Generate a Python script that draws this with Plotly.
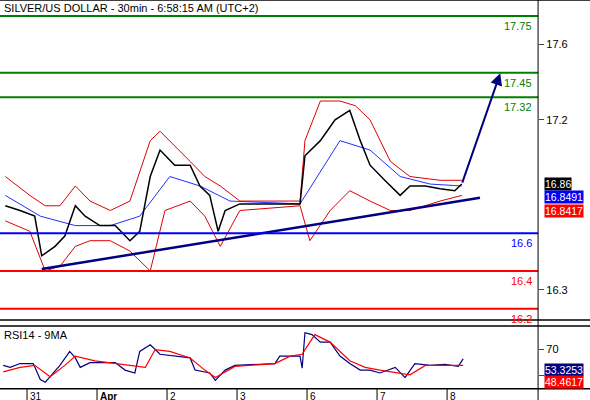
import plotly.graph_objects as go

day_ticks = [0, 1, 2, 3, 4, 5, 6]
day_labels = ["31", "Apr", "2", "3", "6", "7", "8"]

px_x = [-0.31,-0.10,0.11,0.21,0.40,0.54,0.69,0.83,1.04,1.26,1.47,1.61,1.76,1.90,2.11,2.33,2.47,2.61,2.73,2.83,3.04,3.33,3.90,3.97,4.19,4.40,4.61,4.76,4.90,5.11,5.33,5.47,5.69,5.90,6.11,6.21]
price = [16.745,16.72,16.69,16.48,16.53,16.585,16.745,16.69,16.64,16.64,16.56,16.61,16.90,17.04,16.96,16.96,16.85,16.80,16.61,16.72,16.755,16.755,16.755,17.01,17.09,17.20,17.25,17.09,16.96,16.88,16.80,16.85,16.85,16.835,16.825,16.86]

up_x = [-0.31,0.04,0.26,0.47,0.69,0.90,1.19,1.47,1.76,1.90,2.33,2.54,2.76,3.04,3.90,3.97,4.19,4.47,4.69,4.90,5.19,5.47,5.90,6.21]
upper = [16.90,16.80,16.745,16.745,16.85,16.77,16.72,16.77,17.09,17.14,16.98,16.90,16.85,16.77,16.77,17.09,17.30,17.30,17.275,17.20,16.98,16.90,16.88,16.88]
lo_x = [-0.31,0.04,0.26,0.47,0.69,0.90,1.19,1.47,1.76,1.97,2.33,2.54,2.76,3.04,3.90,4.04,4.33,4.61,4.90,5.19,5.47,5.90,6.21]
lower = [16.665,16.61,16.40,16.425,16.53,16.56,16.56,16.505,16.40,16.72,16.77,16.69,16.53,16.72,16.745,16.56,16.72,16.825,16.77,16.72,16.72,16.77,16.80]
mid_x = [-0.31,0.19,0.69,1.19,1.61,2.04,2.47,2.90,3.90,4.47,4.90,5.33,5.76,6.21]
middle = [16.80,16.69,16.64,16.64,16.69,16.90,16.85,16.77,16.755,17.09,17.04,16.90,16.86,16.85]

trend_x = [0.21, 6.47]
trend_y = [16.41, 16.787]
arrow_x = [6.21, 6.76]
arrow_y = [16.86, 17.447]

rsi_x = [-0.34,-0.24,-0.10,0.09,0.19,0.26,0.33,0.47,0.61,0.69,0.76,0.90,1.04,1.26,1.40,1.54,1.61,1.76,1.90,2.11,2.33,2.40,2.61,2.69,2.83,2.97,3.54,3.61,3.90,3.93,3.97,4.07,4.19,4.33,4.47,4.61,4.76,4.90,5.04,5.26,5.40,5.54,5.76,5.97,6.16,6.23]
rsi = [57.9,56.4,59.3,59.3,47.1,45,49.3,57.9,68.6,63.6,56.4,60,60,60,54.3,52.1,68.6,73.6,66.4,65,63.6,54.3,52.1,46.4,54.3,57.9,59.3,65,65,55.7,82.9,81.4,75.7,75.7,65,59.3,54.3,54.3,52.1,56.4,48.6,59.3,57.9,58.6,57.1,62.9]
ma_x = [-0.34,-0.10,0.11,0.33,0.54,0.69,0.97,1.19,1.47,1.69,1.83,2.04,2.33,2.54,2.69,2.97,3.54,3.76,3.93,4.11,4.33,4.61,4.83,5.04,5.47,5.69,6.23]
rsi_ma = [52.9,56.4,57.9,49.3,57.9,65,61.4,60,57.9,56.4,70,68.6,63.6,54.3,48.6,57.1,59.3,65,66.4,81.4,75.7,61.4,56.4,54.3,50.7,57.9,57.9]

levels = [17.75, 17.45, 17.32, 16.6, 16.4, 16.2]
level_colors = ["#008000", "#008000", "#008000", "#0000ff", "#ff0000", "#ff0000"]

fig = go.Figure()
fig.add_trace(go.Scatter(x=up_x, y=upper, mode="lines", line=dict(color="#e00000", width=1)))
fig.add_trace(go.Scatter(x=lo_x, y=lower, mode="lines", line=dict(color="#e00000", width=1)))
fig.add_trace(go.Scatter(x=mid_x, y=middle, mode="lines", line=dict(color="#2030ff", width=1)))
fig.add_trace(go.Scatter(x=px_x, y=price, mode="lines", line=dict(color="#000000", width=1.5)))
fig.add_trace(go.Scatter(x=trend_x, y=trend_y, mode="lines", line=dict(color="#000080", width=2.5)))
fig.add_trace(go.Scatter(x=rsi_x, y=rsi, mode="lines", line=dict(color="#000080", width=1.2), xaxis="x", yaxis="y2"))
fig.add_trace(go.Scatter(x=ma_x, y=rsi_ma, mode="lines", line=dict(color="#ff0000", width=1.2), xaxis="x", yaxis="y2"))

shapes = []
anns = []
for lv, c in zip(levels, level_colors):
    shapes.append(dict(type="line", xref="paper", yref="y", x0=0, x1=0.912, y0=lv, y1=lv, line=dict(color=c, width=2)))
    anns.append(dict(xref="paper", yref="y", x=0.905, y=lv, text=str(lv), showarrow=False, xanchor="right", yanchor="top",
                     font=dict(color=c, size=11), yshift=-2))
for yy in [1.0, 0.2, 0.185, 0.028]:
    shapes.append(dict(type="line", xref="paper", yref="paper", x0=0, x1=1, y0=yy, y1=yy, line=dict(color="black", width=1.5)))
shapes.append(dict(type="line", xref="paper", yref="paper", x0=0.912, x1=0.912, y0=0, y1=1, line=dict(color="black", width=1)))

anns.append(dict(x=arrow_x[1], y=arrow_y[1], ax=arrow_x[0], ay=arrow_y[0], xref="x", yref="y", axref="x", ayref="y",
                 showarrow=True, arrowhead=2, arrowsize=1.2, arrowwidth=2, arrowcolor="#000080", text=""))
anns.append(dict(xref="paper", yref="paper", x=0.003, y=0.999, text="SILVER/US DOLLAR - 30min - 6:58:15 AM (UTC+2)",
                 showarrow=False, xanchor="left", yanchor="top", font=dict(size=11, color="black")))
anns.append(dict(xref="paper", yref="paper", x=0.003, y=0.183, text="RSI14 - 9MA",
                 showarrow=False, xanchor="left", yanchor="top", font=dict(size=11, color="black")))
for t, l in zip(day_ticks, day_labels):
    anns.append(dict(xref="x", yref="paper", x=t, y=0.027, text=("<b>%s</b>" % l) if l == "Apr" else l, showarrow=False,
                     xanchor="left", yanchor="top", xshift=1, font=dict(size=10, color="black")))
    shapes.append(dict(type="line", xref="x", yref="paper", x0=t, x1=t, y0=0.0, y1=0.028, line=dict(color="black", width=1)))

def box(y, text, color, yref):
    anns.append(dict(xref="paper", yref=yref, x=0.922, y=y, text=text, showarrow=False, xanchor="left",
                     bgcolor=color, font=dict(color="white", size=10.5), borderpad=0))
box(16.86, "16.86", "black", "y")
box(16.79, "16.8491", "#0000ff", "y")
box(16.72, "16.8417", "#ff0000", "y")
box(54.5, "53.3253", "#000080", "y2")
box(45.0, "48.4617", "#ff0000", "y2")

fig.update_layout(
    width=590, height=400, margin=dict(l=0, r=0, t=0, b=0),
    paper_bgcolor="white", plot_bgcolor="white", showlegend=False,
    font=dict(family="Arial", size=11, color="black"),
    shapes=shapes, annotations=anns,
    xaxis=dict(domain=[0, 0.912], range=[-0.386, 7.3], showticklabels=False, showgrid=False, zeroline=False, ticks=""),
    yaxis=dict(domain=[0.2, 1], range=[16.14, 17.835], side="right", showgrid=False, zeroline=False,
               tickvals=[17.6, 17.2, 16.3], ticks="outside", ticklen=5, tickfont=dict(size=11)),
    yaxis2=dict(domain=[0.028, 0.185], range=[40, 88], side="right", showgrid=False, zeroline=False,
                tickvals=[70, 50], ticktext=["70", ""], ticks="outside", ticklen=5, anchor="x"),
)
fig.write_html("out.html", config={"displayModeBar": False})
with open("out.html", encoding="utf-8") as f:
    html = f.read()
html = html.replace("<body>", '<body style="margin:0;padding:0;overflow:hidden">', 1)
with open("out.html", "w", encoding="utf-8") as f:
    f.write(html)
